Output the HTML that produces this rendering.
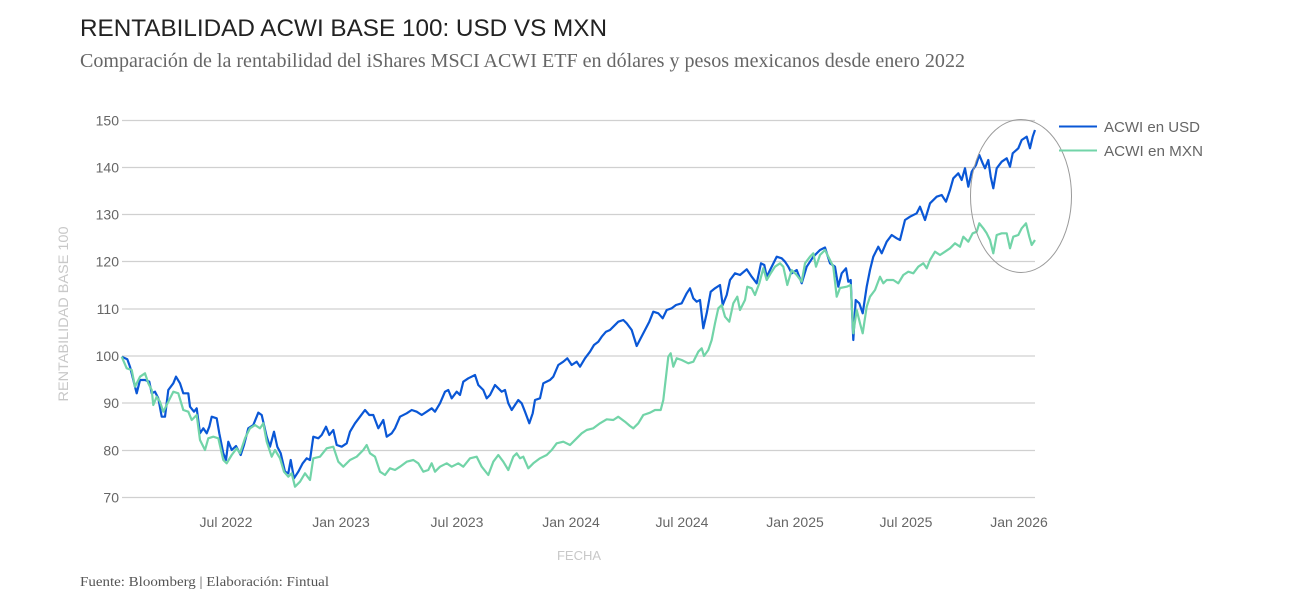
<!DOCTYPE html>
<html>
<head>
<meta charset="utf-8">
<style>
html,body{margin:0;padding:0;background:#fff;}
svg{display:block;}
</style>
</head>
<body>
<svg width="1294" height="604" viewBox="0 0 1294 604" xmlns="http://www.w3.org/2000/svg">
<rect width="1294" height="604" fill="#fff"/>
<text x="80" y="36" font-family="Liberation Sans, sans-serif" font-size="24" fill="#222" textLength="527" lengthAdjust="spacingAndGlyphs">RENTABILIDAD ACWI BASE 100: USD VS MXN</text>
<text x="80" y="67" font-family="Liberation Serif, serif" font-size="20" fill="#666" textLength="885" lengthAdjust="spacingAndGlyphs">Comparación de la rentabilidad del iShares MSCI ACWI ETF en dólares y pesos mexicanos desde enero 2022</text>

<g stroke="#d0d0d0" stroke-width="1.2">
<line x1="122" y1="120.5" x2="1035" y2="120.5"/>
<line x1="122" y1="167.5" x2="1035" y2="167.5"/>
<line x1="122" y1="214.5" x2="1035" y2="214.5"/>
<line x1="122" y1="261.5" x2="1035" y2="261.5"/>
<line x1="122" y1="309" x2="1035" y2="309"/>
<line x1="122" y1="356" x2="1035" y2="356"/>
<line x1="122" y1="403" x2="1035" y2="403"/>
<line x1="122" y1="450.5" x2="1035" y2="450.5"/>
<line x1="122" y1="497.5" x2="1035" y2="497.5"/>
</g>

<g font-family="Liberation Sans, sans-serif" font-size="14" fill="#666" text-anchor="end">
<text x="119" y="125.5">150</text>
<text x="119" y="172.5">140</text>
<text x="119" y="219.5">130</text>
<text x="119" y="266.5">120</text>
<text x="119" y="314">110</text>
<text x="119" y="361">100</text>
<text x="119" y="408">90</text>
<text x="119" y="455.5">80</text>
<text x="119" y="502.5">70</text>
</g>

<g font-family="Liberation Sans, sans-serif" font-size="14" fill="#666" text-anchor="middle">
<text x="226" y="527">Jul 2022</text>
<text x="341" y="527">Jan 2023</text>
<text x="457" y="527">Jul 2023</text>
<text x="571" y="527">Jan 2024</text>
<text x="682" y="527">Jul 2024</text>
<text x="795" y="527">Jan 2025</text>
<text x="906" y="527">Jul 2025</text>
<text x="1019" y="527">Jan 2026</text>
</g>

<text x="579" y="560" font-family="Liberation Sans, sans-serif" font-size="13" fill="#c8c8c8" text-anchor="middle">FECHA</text>
<text transform="translate(68,314) rotate(-90)" font-family="Liberation Sans, sans-serif" font-size="14" fill="#c8c8c8" text-anchor="middle" textLength="175" lengthAdjust="spacingAndGlyphs">RENTABILIDAD BASE 100</text>

<polyline fill="none" stroke="#0a57d6" stroke-width="2.2" stroke-linejoin="round" points="121.7,356.7 127.3,359.3 130,366.7 135,386.7 136.7,393.3 140,380 145,380 149.3,381.7 151.7,393.3 155,391.7 158.3,398.3 161.7,416.7 165,416.7 168.3,390 173.3,383.3 176,376.7 180,383.3 183.3,393.3 188.3,393.3 190,406.7 194,411.7 196.7,408.3 200,433.3 203.3,428.3 206.7,433.3 209.3,426.7 211.7,416.7 216.7,418.3 219.3,433.3 223.3,453.3 226,460 228.3,441.7 231.7,450 236,446 240.7,455 244,445 248.3,428.3 253.3,425 258.3,412.7 261.7,415 266.7,436.7 270,446.7 274,431.7 277.3,446.7 280.7,453.3 285,471.7 288.3,473.3 290.7,460 294,478.3 298.3,471.7 302.7,463.3 306.7,458.3 310,460 313.3,436.7 318.3,438.3 321.7,435 326,426.7 329.3,435 333.3,430 336.7,445 341.7,446.7 346.7,443.3 350,431.7 355,423.3 360,416.7 365,410 369.3,415 373.3,415 378.3,428.3 383.3,420 386.7,436.7 391.7,433.3 395,428.3 400,416.7 406.7,413.3 411.7,410 416.7,411.7 421.7,415 426.7,411.7 431.7,408.3 435,411.7 440,403.3 445,391.7 448.3,390 451.7,398.3 456.7,391.7 460,395 463.3,381.7 468.3,378.3 475,375 478.3,385 483.3,390 486.7,398.3 490,395 495,385 498.3,388.3 501.7,391.7 505,390 508.3,403.3 511.7,410 515,405 518.3,400 521.7,403.3 525,411.7 529.3,423.3 532.7,413.3 535,400 540,398.3 543.3,383.3 550,380 553.3,376.7 558.3,365 563.3,361.7 567.3,358.3 571.7,365 576.7,361.7 580,366.7 585,358.3 590,351.7 594,345 598.3,341.7 601.7,336.7 606,331.7 610,330 613.3,326.7 618.3,321.7 623.3,320 626.7,323.3 631.7,330 636.7,346 640.7,338.3 645,330 649.3,321.7 653.3,311.7 658.3,313.3 662.7,318.3 666.7,310 671.7,308.3 676,305 681.7,303.3 686.7,293.3 690,288.3 693.3,298.3 696.7,301.7 700,300 703.3,328.3 706.7,313.3 710.7,291.7 715,288.3 720,285 722.7,305 726.7,295 730,280 735,273.3 740,275 746.7,269.3 751.7,276.7 756.7,283.3 761,263.3 764.3,265 766.7,276.7 771.7,266.7 776.7,256.7 781.7,258.3 785,261.7 788.3,266.7 791.7,273.3 796.7,270 801.7,283.3 806.7,266.7 813.3,256.7 820,250 825,247.5 830,263.3 835,266.7 838.3,286.7 841.7,273.3 846,268.3 848.3,281.7 850.7,280 853.3,340 855.7,300 859.3,303.3 862.7,313.3 866.7,286.7 870,270 873.3,256.7 878.3,246.7 881.7,253.3 886.7,241.7 891.7,235 896.7,238.3 900,240 905,220 910,216.7 916.7,213.3 920,206.7 925,220 930,203.3 936.7,196.7 941.7,195 946,201.7 950,190 953.3,178.3 958.3,173.3 961.7,180 965,168.3 968.3,186.7 971.7,171.7 976,165 979.3,155 982.7,163.3 985,168.3 988.3,160 990.7,176.7 993.3,188.3 996.7,168.3 1001.7,161.7 1006.7,158.3 1010,166.7 1012.7,153.3 1018.3,148.3 1021.7,140 1026.7,136.7 1030,148.3 1032.7,136.7 1035,130"/>

<polyline fill="none" stroke="#72d4a8" stroke-width="2.2" stroke-linejoin="round" points="121.7,356.7 126.7,368.3 131.7,370 135,386.7 140,376.7 145,373.3 148.3,383.3 151.7,390 153.3,405 156.7,396.7 160,401.7 163.3,411.7 166.7,405 170,398.3 173.3,391.7 178.3,393.3 183.3,410 188.3,411.7 191.7,420 196.7,415 200,440 205,450 208.3,438.3 213.3,436.7 218.3,438.3 223.3,460 226.7,463.3 231.7,455 236.7,448.3 240,453.3 245,438.3 250,428.3 255,425 260,428.3 263.3,423.3 266.7,441.7 271.7,456.7 275,450 280,458.3 284,471.7 288.3,476.7 291.7,473.3 295,486.7 300,481.7 305,473.3 310,480 313.3,458.3 320,456.7 326.7,448.3 333.3,446.7 338.3,461.7 343.3,466.7 350,460 356.7,456.7 363.3,450 366.7,445 370,453.3 375,456.7 380,471.7 385,475 390,468.3 395,470 400,466.7 406.7,461.7 413.3,460 418.3,463.3 423.3,471.7 428.3,470 431.7,463.3 435,471.7 440,466.7 446.7,463.3 451.7,466.7 458.3,463.3 463.3,466.7 470,458.3 476.7,456.7 481.7,466.7 488.3,475 493.3,461.7 498.3,455 503.3,461.7 508.3,470 513.3,456.7 516.7,453.3 520,458.3 523.3,456.7 528.3,468.3 533.3,463.3 540,458.3 546.7,455 551.7,450 556.7,443.3 563.3,441.7 570,445 576.7,438.3 581.7,433.3 586.7,430 593.3,428.3 600,423.3 606.7,419.3 613.3,420 618.3,416.7 625,421.7 630,426 633.3,428.3 638.3,423.3 643.3,415 650,412.7 655,410 660.7,410 663.3,400 666,376.7 668.3,356.7 670.7,353.3 673.3,366.7 676.7,358.3 681.7,360 688.3,363.3 693.3,361.7 698.3,351.7 701.7,348.3 704,356 708.3,350 711.7,340 715,323.3 718.3,308.3 721.7,305 725,316.7 729.3,321.7 733.3,303.3 737.3,296.7 740,310 745,300 747.3,286.7 751.7,288.3 755,295 759.3,283.3 763.3,268.3 766.7,280 770.7,273.3 775,266.7 780,263.3 783.3,266.7 787.3,285 791.7,270 796.7,275 801.7,281.7 805,263.3 810,256.7 813.3,253.3 816,266.7 820,255 825,250 830,260 833.3,266.7 836.7,296.7 840,288 846.7,286.7 850.7,285 853.3,333.3 856.7,310 860,323.3 862.7,333.3 866.7,306.7 870,296.7 875,290 880,276.7 883.3,283.3 886.7,280 893.3,280 898.3,283.3 903.3,275 908.3,271.7 913.3,273.3 918.3,266.7 923.3,263.3 926.7,268.3 930,260 935,251.7 940,255 945,251.7 950,248.3 955,243.3 960,246.7 963.3,236.7 968.3,241.7 972.7,233.3 976.7,231.7 979.3,223.3 983.3,228.3 986.7,233.3 990,240 993.3,253.3 996.7,235 1001.7,233.3 1006.7,233.3 1010,248.3 1013.3,236.7 1018.3,235 1021.7,228.3 1026,223.3 1029.3,236.7 1031.7,245 1035,240"/>

<ellipse cx="1021" cy="196" rx="50.5" ry="76.5" fill="none" stroke="#9a9a9a" stroke-width="1"/>

<line x1="1059" y1="126.5" x2="1097" y2="126.5" stroke="#0a57d6" stroke-width="2"/>
<line x1="1059" y1="150.5" x2="1097" y2="150.5" stroke="#72d4a8" stroke-width="2"/>
<g font-family="Liberation Sans, sans-serif" font-size="15" fill="#666">
<text x="1104" y="132" textLength="96" lengthAdjust="spacingAndGlyphs">ACWI en USD</text>
<text x="1104" y="156" textLength="99" lengthAdjust="spacingAndGlyphs">ACWI en MXN</text>
</g>

<text x="80" y="586" font-family="Liberation Serif, serif" font-size="14" fill="#555" textLength="249" lengthAdjust="spacingAndGlyphs">Fuente: Bloomberg | Elaboración: Fintual</text>
</svg>
</body>
</html>
